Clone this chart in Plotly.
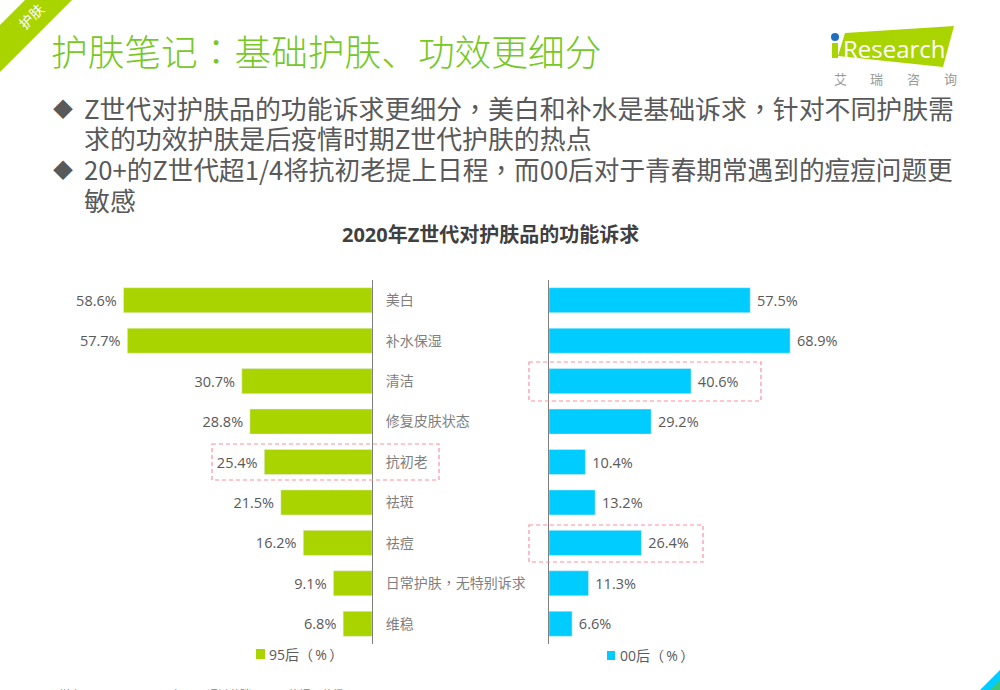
import plotly.graph_objects as go

title = '2020年Z世代对护肤品的功能诉求'
categories = ['美白', '补水保湿', '清洁', '修复皮肤状态', '抗初老', '祛斑', '祛痘', '日常护肤<span style="font-family:Noto Sans CJK TC">，</span>无特别诉求', '维稳']
post95 = [58.6, 57.7, 30.7, 28.8, 25.4, 21.5, 16.2, 9.1, 6.8]
post00 = [57.5, 68.9, 40.6, 29.2, 10.4, 13.2, 26.4, 11.3, 6.6]

W, H = 1000, 690
GREEN = '#aad400'
BLUE = '#00ccff'
FONT = 'Open Sans, Noto Sans CJK SC, sans-serif'
CJK = 'Noto Sans CJK SC, sans-serif'


def px(x):
    return x / W


def py(y):
    return 1 - y / H


def punct(s):
    # the reference centres its full-width punctuation, the TC face does too
    for ch in '，：':
        s = s.replace(ch, f'<span style="font-family:Noto Sans CJK TC">{ch}</span>')
    return s


def text(x, y, s, size, color, anchor='left', angle=0, family=FONT, weight=None):
    return dict(x=px(x), y=py(y), xref='paper', yref='paper', text=punct(s), showarrow=False,
                xanchor=anchor, yanchor='middle', textangle=angle,
                font=dict(family=family, size=size, color=color, weight=weight))


def dash_box(x0, y0, x1, y1):
    return dict(type='rect', xref='paper', yref='paper', x0=px(x0), x1=px(x1), y0=py(y0), y1=py(y1),
                line=dict(color='#ff8f9c', width=1.2, dash='4px,3px'), layer='above')


def poly(points, color):
    path = 'M ' + ' L '.join(f'{px(x)} {py(y)}' for x, y in points) + ' Z'
    return dict(type='path', xref='paper', yref='paper', path=path,
                fillcolor=color, line=dict(width=0), layer='below')


def rect(x0, y0, x1, y1, color, kind='rect'):
    return dict(type=kind, xref='paper', yref='paper', x0=px(x0), x1=px(x1), y0=py(y0), y1=py(y1),
                fillcolor=color, line=dict(width=0))


fig = go.Figure()
fig.add_trace(go.Bar(x=post95, y=categories, orientation='h', name='95后（%）',
                     marker_color=GREEN, width=0.62, xaxis='x', yaxis='y',
                     text=[f'{v:.1f}%\u00a0' for v in post95], textposition='outside',
                     cliponaxis=False, textfont=dict(size=14.5, color='#595959', family=FONT)))
fig.add_trace(go.Bar(x=post00, y=categories, orientation='h', name='00后（%）',
                     marker_color=BLUE, width=0.62, xaxis='x2', yaxis='y2',
                     text=[f'\u00a0{v:.1f}%' for v in post00], textposition='outside',
                     cliponaxis=False, textfont=dict(size=14.5, color='#595959', family=FONT)))

shapes = [
    poly([(0, 72), (72, 0), (25, 0), (0, 25)], GREEN),
    poly([(845, 33), (954, 26), (943, 67), (838, 56)], GREEN),
    rect(832, 43, 838, 58, GREEN),
    rect(831, 33, 839, 41, '#1f6fc0', 'circle'),
    poly([(980, 690), (1000, 670), (1000, 690)], BLUE),
    poly([(990, 690), (1000, 680), (1000, 690)], '#3cc878'),
    rect(256, 649, 265, 659, GREEN),
    rect(607, 651, 615, 660, BLUE),
    dash_box(212, 444, 439, 480),
    dash_box(529, 362, 761, 401),
    dash_box(529, 525, 703, 562),
]

annotations = [
    text(49, 50, '护肤笔记：基础护肤、功效更细分', 36.7, '#76c826', family=CJK, weight=300),
    text(31, 16, '护肤', 14, 'white', anchor='center', angle=-45, family=CJK),
    text(51, 109, '◆', 20, '#595959'),
    text(82, 107, 'Z世代对护肤品的功能诉求更细分，美白和补水是基础诉求，针对不同护肤需', 25.9, '#595959', family=CJK),
    text(82, 137, '求的功效护肤是后疫情时期Z世代护肤的热点', 25.9, '#595959', family=CJK),
    text(51, 170, '◆', 20, '#595959'),
    text(82, 168, '20+的Z世代超1/4将抗初老提上日程，而00后对于青春期常遇到的痘痘问题更', 25.65, '#595959', family=CJK),
    text(82, 199, '敏感', 25.9, '#595959', family=CJK),
    text(490, 235, '<b>' + title + '</b>', 20, '#404040', anchor='center'),
    text(841, 49, 'Research', 24, 'white'),
    text(832, 79, '艾', 13, '#999999'),
    text(868, 79, '瑞', 13, '#999999'),
    text(905, 79, '咨', 13, '#999999'),
    text(942, 79, '询', 13, '#999999'),
    text(267, 654, '95后（\u2009%\u2009）', 14, '#595959'),
    text(618, 655, '00后（\u2009%\u2009）', 14, '#595959'),
    text(57, 694, '样本：N=948，于2021年01月通过艾瑞iClick网络调研获得', 11, '#7f7f7f'),
]

ydom = [py(644), py(280)]
fig.update_layout(
    width=W, height=H, margin=dict(l=0, r=0, t=0, b=0),
    paper_bgcolor='white', plot_bgcolor='white', showlegend=False,
    font=dict(family=FONT, color='#595959'),
    shapes=shapes, annotations=annotations,
    xaxis=dict(domain=[0, px(372)], range=[372 / 4.24, 0], visible=False),
    xaxis2=dict(domain=[px(549), 1], range=[0, 451 / 3.5], visible=False),
    yaxis=dict(domain=ydom, anchor='x', side='right', categoryorder='array', categoryarray=categories,
               range=[8.5, -0.5], showline=True, linecolor='#7f7f7f', linewidth=1,
               ticks='outside', ticklen=10, tickcolor='rgba(0,0,0,0)',
               tickfont=dict(size=14, color='#7f7f7f', family=CJK)),
    yaxis2=dict(domain=ydom, anchor='x2', categoryorder='array', categoryarray=categories,
                range=[8.5, -0.5], showline=True, linecolor='#7f7f7f', linewidth=1,
                showticklabels=False, ticks=''),
)

fig.write_html('out.html', config={'displayModeBar': False}, post_script="document.body.style.margin='0';")
